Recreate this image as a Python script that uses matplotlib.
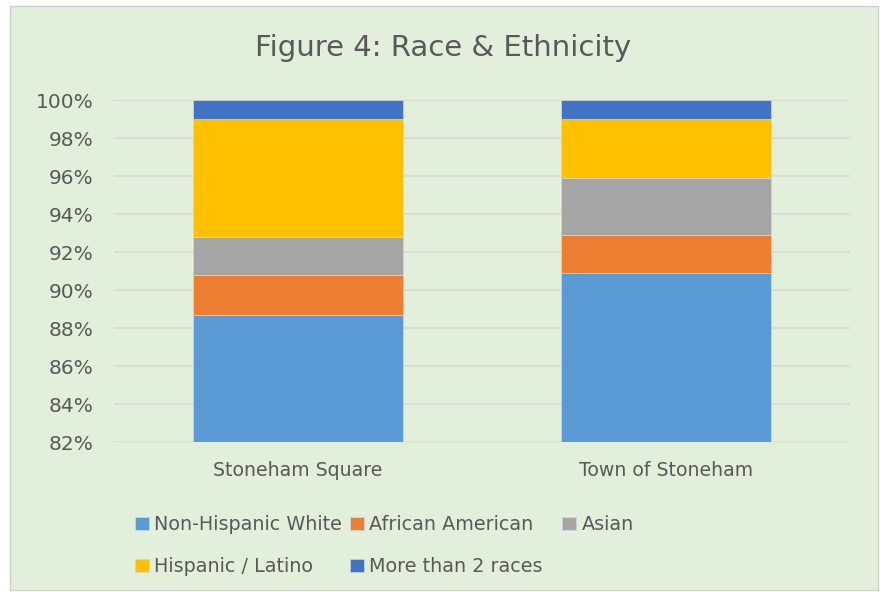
import matplotlib
matplotlib.use("Agg")
import matplotlib.pyplot as plt
import numpy as np
from matplotlib.patches import Rectangle

# data (percent of population)
places = ["Stoneham Square", "Town of Stoneham"]
groups = ["Non-Hispanic White", "African American", "Asian", "Hispanic / Latino", "More than 2 races"]
white = [88.7, 90.9]
african_american = [2.1, 2.0]
asian = [2.0, 3.0]
hispanic = [6.2, 3.1]
more_races = [1.0, 1.0]
y_ticks = [82, 84, 86, 88, 90, 92, 94, 96, 98, 100]

COLORS = ["#5B9BD5", "#ED7D31", "#A5A5A5", "#FFC000", "#4472C4"]
BG = "#E2EFDA"
INK = "#595959"

plt.rcParams["font.family"] = ["DejaVu Sans"]

fig = plt.figure(figsize=(8.86, 5.93), dpi=100)
fig.patch.set_facecolor("white")
fig.patches.append(Rectangle((10 / 886, 1 - 590 / 593), 868 / 886, 584 / 593,
                             transform=fig.transFigure, facecolor=BG,
                             edgecolor="#D0D0D0", linewidth=1.0, zorder=-1))

ax = fig.add_axes([114 / 886, 1 - 442 / 593, 736 / 886, 342 / 593])
ax.set_facecolor("none")

x = np.arange(len(places))
series = [white, african_american, asian, hispanic, more_races]
bottom = np.zeros(len(places))
for name, vals, color in zip(groups, series, COLORS):
    vals = np.array(vals)
    ax.bar(x, vals, width=0.573, bottom=bottom, color=color, label=name,
           edgecolor="#C9D9E6", linewidth=0.5, zorder=3)
    bottom += vals

ax.set_ylim(82, 100)
ax.set_xlim(-0.5, 1.5)
ax.set_yticks(y_ticks, [f"{t}%" for t in y_ticks])
ax.set_xticks(x, places)
ax.grid(axis="y", color="#D9D9D9", linewidth=1.2, zorder=0)
ax.tick_params(axis="both", length=0, colors=INK)
ax.tick_params(axis="y", pad=15, labelsize=14.5)
ax.tick_params(axis="x", pad=14, labelsize=13.6)
for s in ax.spines.values():
    s.set_visible(False)

fig.text(0.5, 1 - 48 / 593, "Figure 4: Race & Ethnicity", ha="center", va="center",
         fontsize=21, color=INK)

# legend laid out in three equal-ish columns, filled row by row like the original
handles, labels = ax.get_legend_handles_labels()
columns = [[0, 3], [1, 4], [2]]
col_x = [118, 333, 545]
for idx, cx in zip(columns, col_x):
    leg = fig.legend([handles[i] for i in idx], [labels[i] for i in idx],
                     loc="upper left", bbox_to_anchor=(cx / 886, 1 - 498 / 593),
                     frameon=False, fontsize=13.8, handlelength=0.7, handleheight=0.7,
                     handletextpad=0.3, labelspacing=1.2)
    for t in leg.get_texts():
        t.set_color(INK)

fig.savefig("out.png", dpi=100)
